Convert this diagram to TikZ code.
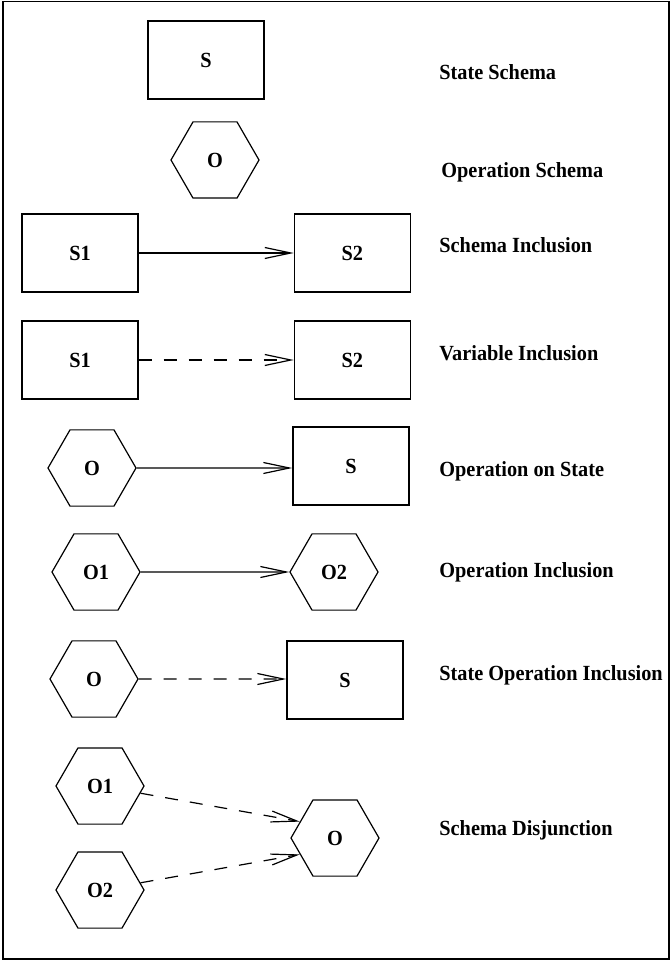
\documentclass[tikz,border=0pt]{standalone}
\usepackage{fontspec}
\setmainfont{Liberation Serif}[FakeStretch = 0.94]
\usetikzlibrary{shapes.geometric, arrows.meta, positioning}

\begin{document}
\begin{tikzpicture}[x = 0.5pt, y = -0.5pt, font = \fontsize{10.8}{12}\selectfont\bfseries]
      \tikzstyle{state} = [rectangle, minimum width = 58pt, minimum height = 39pt, line width = 0.7pt, draw = black]
      \tikzstyle{oper} = [regular polygon, regular polygon sides = 6, minimum size = 44pt, inner sep = 0pt, line width = 0.6pt, draw = black]
      \tikzstyle{connect} = [-{Straight Barb[length = 13pt, width = 5.5pt]}, line width = 0.6pt]
      \tikzstyle{weak} = [connect, dash pattern = on 6.5pt off 6pt]
      \tikzstyle{desc} = [anchor = base west, inner sep = 0pt]
      \useasboundingbox (0,0) rectangle (670,961);
      \draw[line width = 0.75pt] (3,1.5) rectangle (669,959);
      % legend symbols
      \node[state] (s) at (206,60) {S};
      \node[oper] (o) at (215,160) {O};
      % relations
      \node[state] (s1) at (80,253) {S1};
      \node[state, right = 77.5pt of s1] (s2) {S2};
      \node[state] (v1) at (80,360) {S1};
      \node[state, right = 77.5pt of v1] (v2) {S2};
      \node[oper] (op) at (92,468) {O};
      \node[state] (st) at (351,466) {S};
      \node[oper] (o1) at (96,572) {O1};
      \node[oper] (o2) at (334,572) {O2};
      \node[oper] (so) at (94,679) {O};
      \node[state] (ss) at (345,680) {S};
      \node[oper] (d1) at (100,786) {O1};
      \node[oper] (d2) at (100,890) {O2};
      \node[oper] (d) at (335,838) {O};
      % names
      \node[desc] (ls) at (439,80) {State Schema};
      \node[desc] (lo) at (441,178) {Operation Schema};
      \node[desc] (lsi) at (439,253) {Schema Inclusion};
      \node[desc] (lvi) at (439,361) {Variable Inclusion};
      \node[desc] (los) at (439,476) {Operation on State};
      \node[desc] (loi) at (439,577) {Operation Inclusion};
      \node[desc] (lsoi) at (439,680) {State Operation Inclusion};
      \node[desc] (lsd) at (439,835) {Schema Disjunction};
      \path (s1) edge [connect] (s2) (v1) edge [weak] (v2)
            (op) edge [connect] (op -| st.west) (o1) edge [connect] (o2)
            (so) edge [weak] (so -| ss.west)
            (d1) edge [weak] (d.155) (d2) edge [weak] (d.205);
    \end{tikzpicture}
\end{document}
